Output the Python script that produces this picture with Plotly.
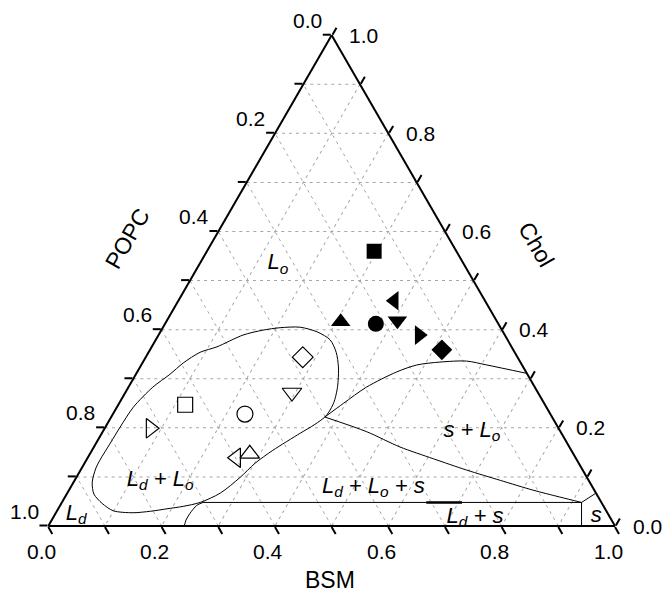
import plotly.graph_objects as go

# ---------------------------------------------------------------
# BSM / POPC / Chol ternary phase diagram
# Every composition is given as mole fractions (Chol, BSM, POPC).
# Plotly axes: a = Chol (top), b = POPC (bottom-left), c = BSM (bottom-right)
# ---------------------------------------------------------------

GRID_STEP = 0.1
TICK_LABEL_VALUES = [0.0, 0.2, 0.4, 0.6, 0.8, 1.0]

# Ld + Lo coexistence loop
LOOP_CHOL = [0.089, 0.118, 0.134, 0.169, 0.201, 0.242, 0.283, 0.309, 0.332, 0.354,
             0.365, 0.389, 0.399, 0.404, 0.405, 0.395, 0.379, 0.354, 0.324, 0.297,
             0.277, 0.252, 0.232, 0.222, 0.207, 0.189, 0.154, 0.128, 0.099, 0.067,
             0.048, 0.040, 0.035, 0.030, 0.027, 0.031, 0.046, 0.065, 0.089]
LOOP_BSM = [0.033, 0.025, 0.024, 0.025, 0.026, 0.029, 0.043, 0.060, 0.072, 0.091,
            0.115, 0.149, 0.179, 0.207, 0.242, 0.278, 0.308, 0.331, 0.350, 0.363,
            0.371, 0.378, 0.379, 0.377, 0.367, 0.350, 0.319, 0.301, 0.289, 0.270,
            0.244, 0.218, 0.192, 0.165, 0.136, 0.099, 0.072, 0.048, 0.033]
LOOP_POPC = [0.878, 0.857, 0.842, 0.806, 0.773, 0.729, 0.674, 0.631, 0.596, 0.555,
             0.520, 0.462, 0.422, 0.389, 0.353, 0.327, 0.313, 0.315, 0.326, 0.340,
             0.352, 0.370, 0.389, 0.401, 0.426, 0.461, 0.527, 0.571, 0.612, 0.663,
             0.708, 0.742, 0.773, 0.805, 0.837, 0.870, 0.882, 0.887, 0.878]

# Upper boundary of the s + Lo region
UPPER_CHOL = [0.222, 0.250, 0.283, 0.314, 0.328, 0.334, 0.336, 0.328, 0.311]
UPPER_BSM = [0.377, 0.396, 0.420, 0.458, 0.486, 0.524, 0.570, 0.610, 0.689]
UPPER_POPC = [0.401, 0.354, 0.297, 0.228, 0.186, 0.142, 0.094, 0.062, 0.000]

# Lower boundary of the s + Lo region (edge of the three-phase triangle)
LOWER_CHOL = [0.222, 0.192, 0.161, 0.137, 0.114, 0.093, 0.073, 0.059, 0.048]
LOWER_BSM = [0.377, 0.466, 0.540, 0.611, 0.681, 0.751, 0.819, 0.873, 0.917]
LOWER_POPC = [0.401, 0.342, 0.299, 0.252, 0.205, 0.156, 0.108, 0.068, 0.035]

# Straight boundaries around the solid corner
EDGE_CHOL = [0.067, 0.048, 0.000]
EDGE_BSM = [0.933, 0.917, 0.941]
EDGE_POPC = [0.000, 0.035, 0.059]

BASE_CHOL = [0.048, 0.048]
BASE_BSM = [0.249, 0.917]
BASE_POPC = [0.703, 0.035]

TIE_CHOL = [0.048, 0.048]
TIE_BSM = [0.643, 0.706]
TIE_POPC = [0.309, 0.246]

FOOT_CHOL = [0.048, 0.042, 0.025, 0.012, 0.000]
FOOT_BSM = [0.249, 0.241, 0.237, 0.237, 0.240]
FOOT_POPC = [0.703, 0.717, 0.738, 0.751, 0.760]

# Filled symbols
FILLED_SYMBOL = ["square", "triangle-left", "triangle-up", "circle",
                 "triangle-down", "triangle-right", "diamond"]
FILLED_CHOL = [0.560, 0.459, 0.416, 0.412, 0.418, 0.389, 0.359]
FILLED_BSM = [0.295, 0.381, 0.308, 0.372, 0.407, 0.460, 0.515]
FILLED_POPC = [0.145, 0.160, 0.276, 0.216, 0.175, 0.151, 0.126]

# Open symbols
OPEN_SYMBOL = ["square-open", "circle-open", "triangle-right-open", "triangle-left-open",
               "triangle-up-open", "diamond-open", "triangle-down-open"]
OPEN_CHOL = [0.247, 0.228, 0.199, 0.139, 0.147, 0.344, 0.272]
OPEN_BSM = [0.118, 0.233, 0.081, 0.262, 0.282, 0.277, 0.294]
OPEN_POPC = [0.635, 0.539, 0.720, 0.599, 0.571, 0.379, 0.434]

SYMBOL_SIZE = {"square": 15, "circle": 16, "diamond": 16}

# Phase region labels
REGION_TEXT = ["<i>L<sub>o</sub></i>", "<i>L<sub>d</sub> + L<sub>o</sub></i>",
               "<i>L<sub>d</sub></i>", "<i>L<sub>d</sub> + L<sub>o</sub> + s</i>",
               "<i>s + L<sub>o</sub></i>", "<i>L<sub>d</sub> + s</i>", "<i>s</i>"]
REGION_CHOL = [0.534, 0.093, 0.024, 0.079, 0.193, 0.018, 0.020]
REGION_BSM = [0.138, 0.151, 0.037, 0.534, 0.651, 0.744, 0.957]
REGION_POPC = [0.328, 0.756, 0.939, 0.387, 0.156, 0.238, 0.023]

# Page and triangle placement (pixels)
PAGE_W, PAGE_H = 663, 592
TRI_LEFT, TRI_RIGHT = 48.3, 615.0
TRI_TOP, TRI_BOTTOM = 35.2, 526.0


def marker_size(symbol):
    base = symbol.replace("-open", "")
    return SYMBOL_SIZE.get(base, 17)


def edge_point(chol, bsm):
    """Paper coordinates of a composition, used to pin the edge labels."""
    side = TRI_RIGHT - TRI_LEFT
    height = TRI_BOTTOM - TRI_TOP
    px = TRI_LEFT + side * (bsm + chol / 2)
    py = TRI_BOTTOM - height * chol
    return px / PAGE_W, 1 - py / PAGE_H


fig = go.Figure()


def boundary(chol, bsm, popc, width=1.0, shape="spline"):
    fig.add_trace(go.Scatterternary(
        a=chol, b=popc, c=bsm, mode="lines",
        line=dict(color="black", width=width, shape=shape, smoothing=0.8),
        hoverinfo="skip", showlegend=False,
    ))


boundary(LOOP_CHOL, LOOP_BSM, LOOP_POPC)
boundary(UPPER_CHOL, UPPER_BSM, UPPER_POPC)
boundary(LOWER_CHOL, LOWER_BSM, LOWER_POPC)
boundary(EDGE_CHOL, EDGE_BSM, EDGE_POPC, shape="linear")
boundary(BASE_CHOL, BASE_BSM, BASE_POPC, shape="linear")
boundary(TIE_CHOL, TIE_BSM, TIE_POPC, width=2.5, shape="linear")
boundary(FOOT_CHOL, FOOT_BSM, FOOT_POPC)

fig.add_trace(go.Scatterternary(
    a=FILLED_CHOL, b=FILLED_POPC, c=FILLED_BSM, mode="markers",
    marker=dict(symbol=FILLED_SYMBOL, size=[marker_size(s) for s in FILLED_SYMBOL],
                color="black", opacity=1, line=dict(width=0)),
    showlegend=False,
))

fig.add_trace(go.Scatterternary(
    a=OPEN_CHOL, b=OPEN_POPC, c=OPEN_BSM, mode="markers",
    marker=dict(symbol=OPEN_SYMBOL, size=[marker_size(s) for s in OPEN_SYMBOL],
                color="black", opacity=1, line=dict(width=1.2, color="black")),
    showlegend=False,
))

fig.add_trace(go.Scatterternary(
    a=REGION_CHOL, b=REGION_POPC, c=REGION_BSM, mode="text",
    text=REGION_TEXT, textposition="middle center",
    textfont=dict(family="Liberation Sans", size=22, color="black"),
    cliponaxis=False, hoverinfo="skip", showlegend=False,
))

axis_style = dict(
    tickmode="linear", tick0=0, dtick=GRID_STEP, showticklabels=False,
    ticks="outside", ticklen=8, tickwidth=1.5, tickcolor="black",
    showline=True, linecolor="black", linewidth=2,
    showgrid=True, gridcolor="#a6a6a6", gridwidth=1, griddash="3px,4px",
    layer="below traces", min=0, title=dict(text=""),
)

# Edge labels: POPC on the left edge, Chol on the right edge, BSM along the base
label_font = dict(family="Liberation Sans", size=21, color="black")
annotations = []
for v in TICK_LABEL_VALUES:
    text = f"{v:.1f}"
    x, y = edge_point(1 - v, 0.0)           # left edge, POPC = v
    annotations.append(dict(text=text, x=x, y=y, xshift=-24, yshift=15,
                            xanchor="center", yanchor="middle", font=label_font))
    x, y = edge_point(v, 1 - v)             # right edge, Chol = v
    annotations.append(dict(text=text, x=x, y=y, xshift=32, yshift=0,
                            xanchor="center", yanchor="middle", font=label_font))
    x, y = edge_point(0.0, v)               # base, BSM = v
    annotations.append(dict(text=text, x=x, y=y, xshift=-7, yshift=-25,
                            xanchor="center", yanchor="middle", font=label_font))

title_font = dict(family="Liberation Sans", size=23, color="black")
annotations += [
    dict(text="POPC", x=127 / PAGE_W, y=1 - 239 / PAGE_H, textangle=-60,
         xanchor="center", yanchor="middle", font=title_font),
    dict(text="Chol", x=536 / PAGE_W, y=1 - 244 / PAGE_H, textangle=60,
         xanchor="center", yanchor="middle", font=title_font),
    dict(text="BSM", x=330 / PAGE_W, y=1 - 580 / PAGE_H,
         xanchor="center", yanchor="middle", font=title_font),
]
for ann in annotations:
    ann.update(xref="paper", yref="paper", showarrow=False)

fig.update_layout(
    width=PAGE_W, height=PAGE_H,
    margin=dict(l=0, r=0, t=0, b=0),
    paper_bgcolor="white",
    font=dict(family="Liberation Sans", color="black"),
    ternary=dict(
        sum=1,
        bgcolor="white",
        domain=dict(x=[TRI_LEFT / PAGE_W, TRI_RIGHT / PAGE_W],
                    y=[1 - TRI_BOTTOM / PAGE_H, 1 - TRI_TOP / PAGE_H]),
        aaxis=axis_style,
        baxis=axis_style,
        caxis=axis_style,
    ),
    annotations=annotations,
)

fig.write_html("out.html")
